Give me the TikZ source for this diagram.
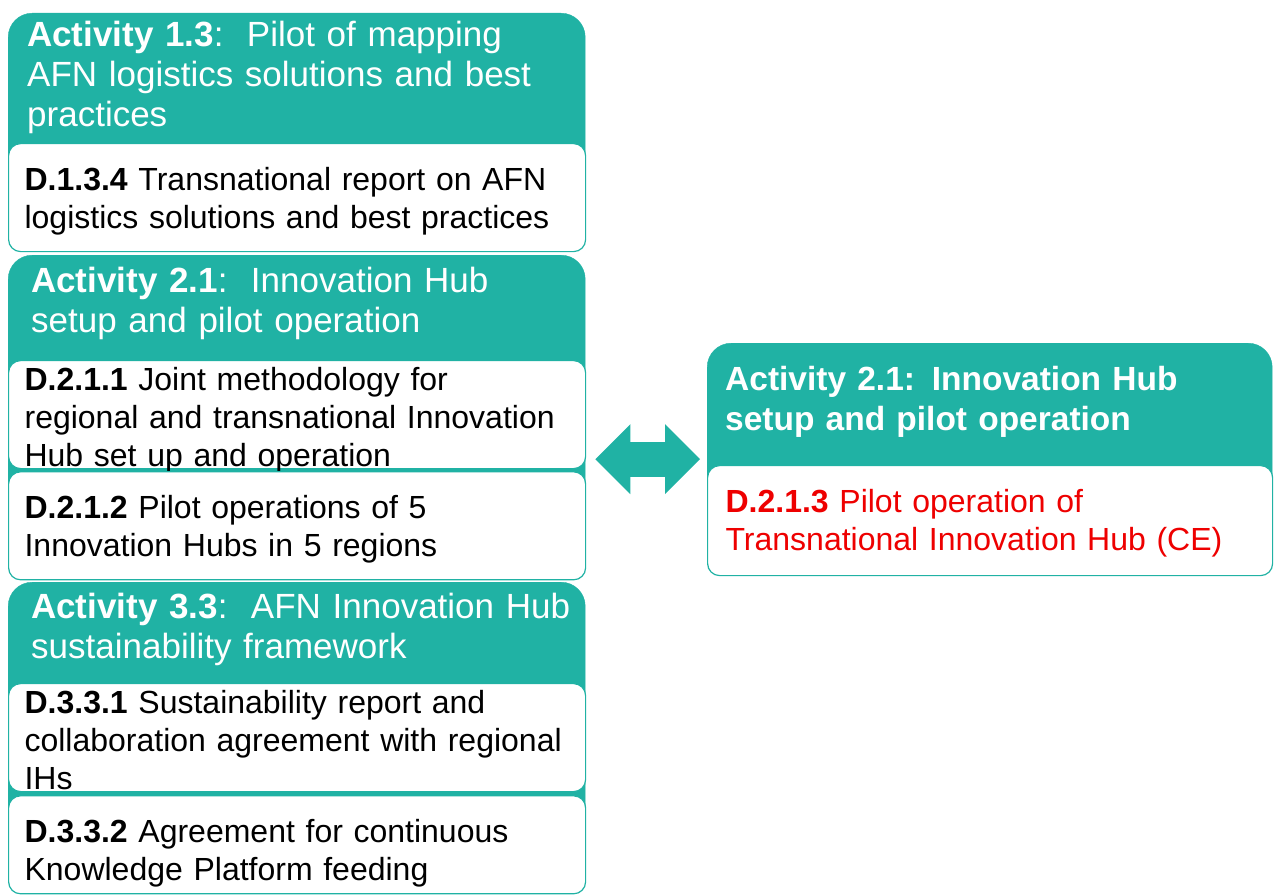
\documentclass[tikz,border=0pt]{standalone}
\usepackage{fontspec}
\setmainfont{Liberation Sans}
\usetikzlibrary{arrows.meta, positioning}
\definecolor{hubteal}{RGB}{32,178,164}
\definecolor{hubred}{RGB}{238,0,0}

\begin{document}
\begin{tikzpicture}[
  x=1pt, y=-1pt,
  node distance=2pt,
  group/.style={rectangle, draw=hubteal, fill=hubteal, rounded corners=24pt,
    minimum width=577pt, inner sep=0pt, anchor=north west},
  head/.style={anchor=base west, inner sep=0pt, text width=560pt, align=left,
    text=white, font=\fontsize{35}{40}\selectfont},
  item/.style={rectangle, draw=hubteal, line width=1.2pt, fill=white,
    rounded corners=12pt, anchor=north west, inner xsep=16pt, inner ysep=0pt,
    text width=545pt, align=left, text height=47pt, text depth=61pt,
    font=\fontsize{32}{38}\selectfont},
  three/.style={text height=30pt, text depth=78pt},
  link/.style={hubteal, line width=35pt, shorten <=10pt, shorten >=7pt,
    {Triangle[length=35pt, width=70pt, line width=0pt]}-{Triangle[length=35pt, width=70pt, line width=0pt]}}
]
  \useasboundingbox (0,0) rectangle (1274,896);

  % activity 1.3
  \node[group, minimum height=237pt] (g13) at (8,13) {};
  \node[item] (d134) at (8,143)
    {\textbf{D.1.3.4} Transnational report on AFN\\logistics solutions and best practices};
  \node[head] (h13) at (27,47)
    {\textbf{Activity 1.3}:\ \ Pilot of mapping\\AFN logistics solutions and best\\practices};

  % activity 2.1
  \node[group, minimum height=323pt] (g21) at (8,255) {};
  \node[item, three] (d211) at (8,360)
    {\textbf{D.2.1.1} Joint methodology for\\regional and transnational Innovation\\Hub set up and operation};
  \node[item, below=of d211] (d212)
    {\textbf{D.2.1.2} Pilot operations of 5\\Innovation Hubs in 5 regions};
  \node[head] (h21) at (31,292)
    {\textbf{Activity 2.1}:\ \ Innovation Hub\\setup and pilot operation};

  % activity 3.3
  \node[group, minimum height=311pt] (g33) at (8,582) {};
  \node[item, three] (d331) at (8,683)
    {\textbf{D.3.3.1} Sustainability report and\\collaboration agreement with regional\\IHs};
  \node[item, below=3pt of d331, text depth=51pt] (d332)
    {\textbf{D.3.3.2} Agreement for continuous\\Knowledge Platform feeding};
  \node[head] (h33) at (31,618)
    {\textbf{Activity 3.3}:\ \ AFN Innovation Hub\\sustainability framework};

  % transnational hub
  \node[group, minimum width=565pt, minimum height=232pt] (hub) at (707,343) {};
  \node[item, text width=529pt, inner xsep=18pt, text depth=63pt, text=hubred] (d213) at (707,465)
    {\textbf{D.2.1.3} Pilot operation of\\Transnational Innovation Hub (CE)};
  \node[head, font=\fontsize{33.5}{40}\selectfont\bfseries] (hhub) at (725,390)
    {Activity 2.1: Innovation Hub\\setup and pilot operation};

  \draw[link] (g21.east |- hub.west) -- (hub.west);
\end{tikzpicture}
\end{document}
